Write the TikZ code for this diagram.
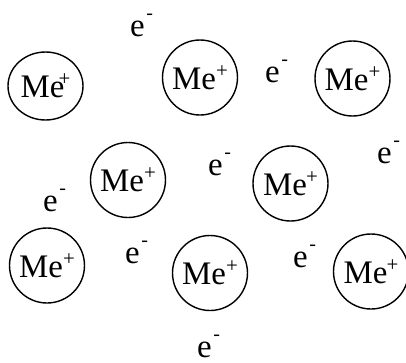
\documentclass[tikz,border=0pt]{standalone}
\usepackage{fontspec}
\setmainfont{Liberation Serif}
\usetikzlibrary{shapes.geometric}
\newcommand{\minuscharge}{\kern1.5bp\raisebox{0.5em}{\fontsize{20}{20}\selectfont -}}
\newcommand{\pluscharge}{\raisebox{0.36em}{\fontsize{21}{21}\selectfont +}}

\begin{document}
\begin{tikzpicture}[x=1bp,y=-1bp,line cap=round,line join=round,
    every node/.style={font=\fontsize{33}{39}\selectfont},
    ion/.style={draw,line width=1.4bp,circle,minimum size=75bp,inner sep=0pt},
    electron/.style={anchor=base west,inner sep=0pt}]
  \useasboundingbox (0,0) rectangle (406,363);
  % metal ions
  \node[ion,ellipse,minimum width=75bp,minimum height=68bp] (m1) at (45.5,86) {Me\kern-6bp\pluscharge};
  \node[ion] (m2) at (200,77.5) {Me\pluscharge};
  \node[ion] (m3) at (352.5,78.5) {Me\pluscharge};
  \node[ion] (m4) at (128,180) {Me\pluscharge};
  \node[ion] (m5) at (290.5,183.5) {Me\kern-1bp\pluscharge};
  \node[ion] (m6) at (47,265.5) {Me\pluscharge};
  \node[ion] (m7) at (210,273) {Me\pluscharge};
  \node[ion] (m8) at (371,271.5) {Me\kern-1bp\pluscharge};
  % free electrons
  \foreach \n/\x/\y in {1/130/36,2/265/82,3/43/211,4/208/175,5/377/163,6/125/263,7/293/267,8/197/357}
    \node[electron] (e\n) at (\x,\y) {e\minuscharge};
\end{tikzpicture}
\end{document}
